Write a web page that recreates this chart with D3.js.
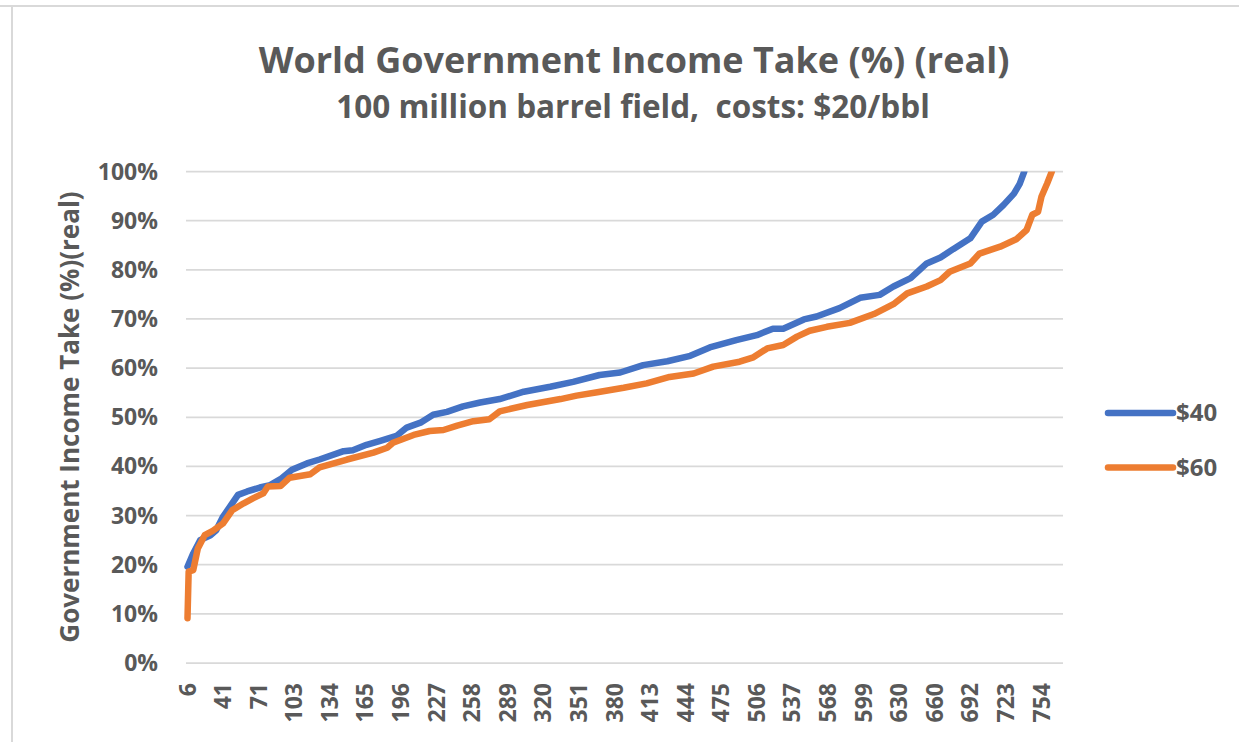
<!DOCTYPE html>
<html>
<head>
<meta charset="utf-8">
<script src="https://cdn.jsdelivr.net/npm/d3@7"></script>
<style>
  body { margin: 0; background: #fff; }
  text { font-family: "Open Sans", sans-serif; font-weight: 700; fill: #595959; }
</style>
</head>
<body>
<div id="chart"></div>
<script>
// category labels shown on the x axis (one label every 31 categories)
var xTicks = ["6","41","71","103","134","165","196","227","258","289","320","351","380",
  "413","444","475","506","537","568","599","630","660","692","723","754"];
var labelEvery = 31;
var yTicks = [0, 0.1, 0.2, 0.3, 0.4, 0.5, 0.6, 0.7, 0.8, 0.9, 1.0];

// $40 series: category index -> take (%)
var rank40 = [0, 5, 11, 20, 25, 31, 37, 44, 52, 63, 72, 81, 91, 104, 115, 136, 144, 156, 168, 182,
  191, 203, 214, 226, 240, 255, 272, 293, 316, 336, 359, 377, 397, 418, 438, 455, 478, 496, 510,
  519, 537, 548, 568, 586, 603, 615, 630, 644, 656, 667, 682, 692, 702, 711, 720, 725, 729, 733];
var take40 = [19.6, 22.3, 25, 26, 27, 29.8, 31.8, 34.2, 34.9, 35.7, 36.2, 37.4, 39.3, 40.6, 41.4, 43.1,
  43.3, 44.4, 45.2, 46.2, 47.9, 48.9, 50.5, 51.1, 52.2, 53, 53.7, 55.2, 56.2, 57.2, 58.6, 59.1, 60.6,
  61.4, 62.5, 64.2, 65.7, 66.7, 68, 68, 69.9, 70.5, 72.2, 74.3, 74.9, 76.6, 78.3, 81.3, 82.5, 84.2,
  86.4, 89.8, 91.2, 93.2, 95.5, 97.5, 100, 106];

// $60 series
var rank60 = [0, 1, 5, 9, 15, 22, 31, 39, 49, 57, 66, 70, 81, 89, 107, 115, 139, 162, 174, 179, 197,
  211, 223, 235, 249, 263, 272, 296, 325, 339, 357, 380, 400, 420, 441, 458, 481, 493, 505, 519,
  531, 542, 557, 577, 598, 615, 627, 644, 656, 664, 682, 690, 708, 722, 731, 736, 741, 744, 749,
  753, 757];
var take60 = [9.1, 18.6, 18.9, 23.3, 26, 26.9, 28.4, 31.1, 32.5, 33.5, 34.5, 35.9, 36, 37.7, 38.4,
  39.8, 41.4, 42.8, 43.8, 44.8, 46.4, 47.2, 47.4, 48.3, 49.2, 49.6, 51.2, 52.5, 53.7, 54.4, 55.1,
  56, 56.9, 58.2, 58.9, 60.3, 61.3, 62.2, 64, 64.7, 66.4, 67.6, 68.4, 69.2, 71, 73, 75.2, 76.6,
  77.9, 79.6, 81.3, 83.3, 84.7, 86.2, 88.1, 91.2, 91.8, 94.9, 97.6, 100, 105];

var seriesNames = ["$40", "$60"];
var colors = ["#4472C4", "#ED7D31"];

var width = 1239, height = 742;
var plot = {left: 186, right: 1063, top: 171.5, bottom: 663};

var svg = d3.select("#chart").append("svg")
    .attr("width", width)
    .attr("height", height);

// chart frame
svg.append("line").attr("x1", 0).attr("x2", width).attr("y1", 6).attr("y2", 6)
    .style("stroke", "#d9d9d9").style("stroke-width", 2);
svg.append("line").attr("x1", 12).attr("x2", 12).attr("y1", 6).attr("y2", height)
    .style("stroke", "#d9d9d9").style("stroke-width", 2);

var xScale = d3.scaleLinear().domain([0, (xTicks.length - 1) * labelEvery]).range([187.5, 1041.5]);
var yScale = d3.scaleLinear().domain([0, 1]).range([plot.bottom, plot.top]);

// titles
svg.append("text")
    .attr("x", 634).attr("y", 73)
    .style("text-anchor", "middle")
    .style("font-size", "36px")
    .text("World Government Income Take (%) (real)");
svg.append("text")
    .attr("x", 633).attr("y", 118)
    .style("text-anchor", "middle")
    .style("font-size", "31.5px")
    .style("white-space", "pre")
    .text("100 million barrel field,  costs: $20/bbl");

// gridlines
svg.selectAll(".grid")
    .data(yTicks)
  .enter().append("line")
    .attr("class", "grid")
    .attr("x1", plot.left).attr("x2", plot.right)
    .attr("y1", function(d) { return yScale(d); })
    .attr("y2", function(d) { return yScale(d); })
    .style("stroke", "#d9d9d9")
    .style("stroke-width", 1.75);

// y axis labels
svg.selectAll(".ylab")
    .data(yTicks)
  .enter().append("text")
    .attr("class", "ylab")
    .attr("x", 158)
    .attr("y", function(d) { return yScale(d); })
    .attr("dy", "0.35em")
    .style("text-anchor", "end")
    .style("font-size", "23px")
    .text(d3.format(".0%"));

svg.append("text")
    .attr("transform", "translate(70,417) rotate(-90)")
    .attr("dy", "0.35em")
    .style("text-anchor", "middle")
    .style("font-size", "26px")
    .text("Government Income Take (%)(real)");

// x axis labels (rotated)
svg.selectAll(".xlab")
    .data(xTicks)
  .enter().append("text")
    .attr("class", "xlab")
    .attr("transform", function(d, i) {
      return "translate(" + xScale(i * labelEvery) + ",683) rotate(-90)";
    })
    .attr("dy", "0.35em")
    .style("text-anchor", "end")
    .style("font-size", "23px")
    .text(function(d) { return d; });

// lines, clipped at the plot area like the original
svg.append("clipPath").attr("id", "clip")
  .append("rect")
    .attr("x", 180).attr("y", plot.top)
    .attr("width", plot.right - 180).attr("height", plot.bottom - plot.top + 10);

var line = d3.line()
    .x(function(d) { return xScale(d[0]); })
    .y(function(d) { return yScale(d[1] / 100); });

var series = [d3.zip(rank40, take40), d3.zip(rank60, take60)];

svg.append("g").attr("clip-path", "url(#clip)")
  .selectAll("path")
    .data(series)
  .enter().append("path")
    .attr("d", line)
    .style("fill", "none")
    .style("stroke", function(d, i) { return colors[i]; })
    .style("stroke-width", 6.5)
    .style("stroke-linejoin", "round")
    .style("stroke-linecap", "round");

// legend
var legend = svg.selectAll(".legend")
    .data(seriesNames)
  .enter().append("g")
    .attr("class", "legend")
    .attr("transform", function(d, i) { return "translate(1108," + (413 + i * 54.5) + ")"; });

legend.append("line")
    .attr("x1", 0).attr("x2", 65)
    .style("stroke", function(d, i) { return colors[i]; })
    .style("stroke-width", 6.5)
    .style("stroke-linecap", "round");

legend.append("text")
    .attr("x", 68)
    .attr("dy", "0.35em")
    .style("font-size", "24px")
    .text(function(d) { return d; });
</script>
</body>
</html>
